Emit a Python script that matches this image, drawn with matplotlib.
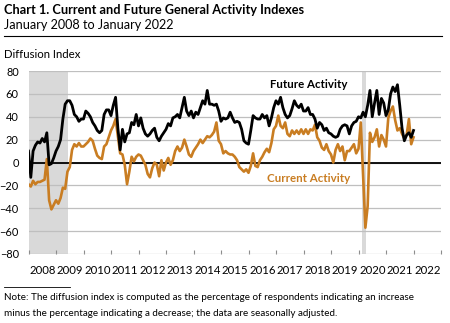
import numpy as np
import pandas as pd
import matplotlib.pyplot as plt

plt.rcParams['font.family'] = ['Lato', 'DejaVu Sans']

# Monthly index readings, January 2008 to January 2022
future = [
    10, -13, 10, 15, 18, 17, 21, 18, 26, -2, -1, 4,      # 2008
    10, 14, 20, 38, 51, 54, 54, 50, 42, 40, 36, 38,      # 2009
    38, 45, 43, 40, 35, 32, 28, 26, 28, 42, 46, 46,      # 2010
    41, 50, 57, 30, 11, 29, 18, 25, 26, 35, 33, 42,      # 2011
    32, 39, 30, 25, 23, 25, 28, 30, 22, 19, 23, 26,      # 2012
    29, 34, 32, 39, 40, 42, 39, 48, 57, 45, 41, 45,      # 2013
    39, 44, 42, 48, 54, 51, 63, 51, 51, 50, 51, 45,      # 2014
    36, 39, 38, 39, 44, 39, 35, 36, 35, 29, 19, 17,      # 2015
    16, 28, 41, 39, 38, 38, 42, 39, 41, 32, 39, 48,      # 2016
    54, 51, 57, 48, 42, 39, 41, 47, 54, 50, 48, 51,      # 2017
    45, 45, 48, 42, 42, 38, 30, 35, 33, 28, 30, 26,      # 2018
    25, 23, 22, 23, 29, 32, 33, 32, 25, 32, 35, 36,      # 2019
    40, 39, 44, 40, 50, 63, 40, 52, 63, 42, 56, 52,      # 2020
    41, 46, 60, 66, 62, 68, 50, 30, 19, 24, 26, 22,      # 2021
    28,                                                  # 2022
]
current = [
    -19, -21, -16, -19, -17, -17, -16, -15, 3, -33, -41, -37,   # 2008
    -33, -36, -31, -22, -23, -8, -4, 11, 16, 14, 17, 14,        # 2009
    14, 16, 18, 21, 19, 12, 6, 4, 3, 14, 16, 22,                # 2010
    28, 32, 38, 23, 8, 7, -2, -19, -8, 5, 1, 5,                 # 2011
    7, 6, 2, -2, -10, -13, -5, 0, -2, -12, 2, -7,               # 2012
    0, 4, -2, 2, 10, 14, 10, 13, 20, 14, 7, 5,                  # 2013
    10, 13, 16, 20, 17, 20, 23, 22, 24, 27, 35, 19,             # 2014
    16, 8, 10, 8, 7, 7, 5, 2, -4, -6, -8, -6,                   # 2015
    -9, -3, 8, -3, -4, 2, 5, 9, 12, 9, 17, 29,                  # 2016
    32, 41, 32, 30, 35, 25, 23, 28, 25, 28, 25, 29,             # 2017
    25, 29, 25, 29, 28, 33, 22, 19, 13, 11, 16, 10,             # 2018
    7, 0, 11, 16, 10, 14, 2, 10, 10, 13, 16, 8,                 # 2019
    12, 35, -10, -57, -38, 26, 18, 22, 29, 14, 24, 20,          # 2020
    14, 39, 45, 49, 37, 28, 30, 25, 21, 24, 38, 16,             # 2021
    22,                                                         # 2022
]

# NBER recessions (start, end) in fractional years
recessions = [(2007.92, 2009.42), (2020.12, 2020.29)]
years = list(range(2008, 2023))

dates = pd.date_range('2008-01-01', '2022-01-01', freq='MS')
x = dates.year + (dates.month - 1) / 12

W, H = 450, 323
fig = plt.figure(figsize=(W / 100, H / 100), dpi=100)
ax = fig.add_axes([28.5 / W, 69 / H, 412.5 / W, 183 / H])

for start, end in recessions:
    ax.axvspan(start, end, color='#d9d9d9', lw=0, zorder=0)

ax.set_ylim(-80, 80)
ax.set_yticks(range(-80, 81, 20))
ax.yaxis.grid(True, color='#bfbfbf', lw=0.9)
ax.set_axisbelow(True)
ax.axhline(0, color='black', lw=1.3, zorder=2)

ax.plot(x, current, color='#c97d22', lw=1.9, zorder=3)
ax.plot(x, future, color='black', lw=2.0, zorder=4)

ax.set_xlim(2008, 2023)
ax.set_xticks(range(2008, 2024))
ax.set_xticks([y + 0.5 for y in years], minor=True)
ax.set_xticklabels([str(y) for y in years], minor=True)
ax.tick_params(axis='x', which='major', direction='in', length=3, color='#8c8c8c',
               labelbottom=False)
ax.tick_params(axis='x', which='minor', length=0, pad=8, labelsize=8.2)
ax.tick_params(axis='y', length=0, pad=7, labelsize=7.9)
for s in ax.spines.values():
    s.set_visible(False)

ax.text(2018.2, 68, 'Future Activity', ha='center', va='center',
        fontsize=8.3, fontweight='bold', color='black')
ax.text(2018.2, -14, 'Current Activity', ha='center', va='center',
        fontsize=8.3, fontweight='bold', color='#c97d22')

fig.text(4 / W, 1 - 10 / H, 'Chart 1. Current and Future General Activity Indexes',
         fontsize=9.2, fontweight='bold', va='center')
fig.text(4 / W, 1 - 25 / H, 'January 2008 to January 2022', fontsize=9.1, va='center')
fig.add_artist(plt.Line2D([4 / W, 442 / W], [1 - 36 / H, 1 - 36 / H], color='black', lw=0.8))
fig.text(4 / W, 1 - 55 / H, 'Diffusion Index', fontsize=8.2, va='center')

fig.add_artist(plt.Line2D([4 / W, 70 / W], [1 - 287 / H, 1 - 287 / H], color='black', lw=0.6))
fig.text(4 / W, 1 - 298 / H,
         'Note: The diffusion index is computed as the percentage of respondents indicating an increase',
         fontsize=7.1, va='center')
fig.text(4 / W, 1 - 313 / H,
         'minus the percentage indicating a decrease; the data are seasonally adjusted.',
         fontsize=7.1, va='center')

fig.savefig('out.png', dpi=100)
